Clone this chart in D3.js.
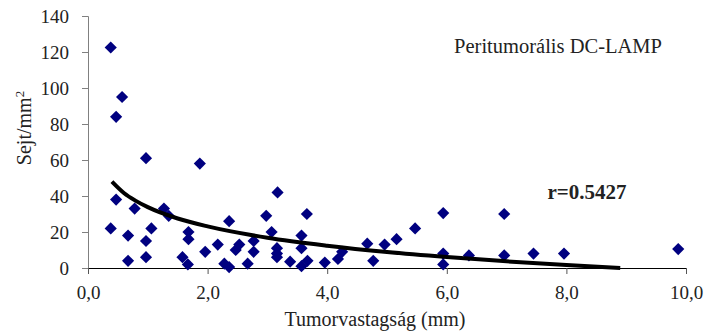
<!DOCTYPE html>
<html>
<head>
<meta charset="utf-8">
<script src="https://cdn.jsdelivr.net/npm/d3@7"></script>
<style>
  body { margin: 0; background: #fff; }
  text { font-family: "Liberation Serif", "Times New Roman", serif; fill: #222; }
</style>
</head>
<body>
<div id="chart"></div>
<script>
// tumour thickness (mm) and cell density (cells/mm2)
const thickness = [0.38, 0.57, 0.47, 0.97, 1.87, 0.47, 0.78, 1.27, 1.35, 0.38,
  0.67, 1.06, 0.97, 1.68, 1.68, 1.96, 0.67, 0.97, 1.58, 1.67,
  3.17, 3.66, 2.36, 2.98, 3.07, 3.57, 2.17, 2.53, 2.47, 2.77,
  2.77, 3.16, 3.16, 3.16, 3.57, 3.38, 3.57, 3.67, 2.28, 2.36,
  2.67, 3.96, 5.94, 5.47, 5.16, 4.96, 4.67, 4.77, 4.25, 4.18,
  5.94, 5.94, 6.96, 6.37, 6.96, 7.45, 7.96, 9.87];
const cells = [122.5, 95, 84, 61, 58, 38, 33, 33, 29, 22,
  18, 22, 15, 20, 16, 9, 4, 6, 6, 2,
  42, 30, 26, 29, 20, 18, 13, 13, 10, 15,
  9, 11, 8, 6, 11, 3.5, 1, 4, 2.4, 0.5,
  2.4, 3, 30.5, 22, 16, 13, 13.5, 4, 9, 5,
  8, 2, 30, 7, 7, 8, 8, 10.5];

// trend line as drawn in the picture
const trendX = [0.4, 0.6, 0.8, 1.0, 1.5, 2.0, 3.0, 4.0, 5.0, 6.0, 7.0, 8.0, 8.9];
const trendY = [48, 41.7, 37.3, 33.8, 27.5, 23.1, 16.8, 12.4, 8.9, 6.1, 3.7, 1.6, 0];

const xTicks = [0, 2, 4, 6, 8, 10];
const xTickLabels = ["0,0", "2,0", "4,0", "6,0", "8,0", "10,0"];
const yTicks = [0, 20, 40, 60, 80, 100, 120, 140];

const data = thickness.map((t, i) => ({ x: t, y: cells[i] }));
const trend = trendX.map((t, i) => ({ x: t, y: trendY[i] }));

const W = 709, H = 333;
const margin = { top: 16, right: 23, bottom: 65, left: 88 };
const width = W - margin.left - margin.right;
const height = H - margin.top - margin.bottom;

const svg = d3.select("#chart")
  .append("svg")
  .attr("width", W)
  .attr("height", H)
  .append("g")
  .attr("transform", `translate(${margin.left},${margin.top})`);

const x = d3.scaleLinear().domain([0, 10]).range([0, width]);
const y = d3.scaleLinear().domain([0, 140]).range([height, 0]);

// y axis
const yAxis = svg.append("g")
  .call(d3.axisLeft(y).tickValues(yTicks).tickSize(6).tickPadding(13));
yAxis.select(".domain").attr("stroke", "#808080");
yAxis.selectAll(".tick line").attr("stroke", "#808080");
yAxis.selectAll("text").style("font-size", "19px")
  .style("font-family", "Liberation Serif").attr("fill", "#222");

// x axis
const xAxis = svg.append("g")
  .attr("transform", `translate(0,${height})`)
  .call(d3.axisBottom(x).tickValues(xTicks)
    .tickFormat((d, i) => xTickLabels[i]).tickSize(6).tickPadding(12));
xAxis.select(".domain").attr("stroke", "#000");
xAxis.selectAll(".tick line").attr("stroke", "#555");
xAxis.selectAll("text").style("font-size", "19px")
  .style("font-family", "Liberation Serif").attr("fill", "#222");

// axis titles
svg.append("text")
  .attr("x", x(5) - 12)
  .attr("y", height + 58)
  .attr("text-anchor", "middle")
  .style("font-size", "20px")
  .text("Tumorvastagság (mm)");

const yLab = svg.append("text")
  .attr("transform", `translate(${31 - margin.left},${128 - margin.top}) rotate(-90)`)
  .attr("text-anchor", "middle")
  .style("font-size", "20px");
yLab.append("tspan").text("Sejt/mm");
yLab.append("tspan").attr("dy", "-7").style("font-size", "13px").text("2");

// points
svg.selectAll("path.pt")
  .data(data)
  .enter()
  .append("path")
  .attr("class", "pt")
  .attr("d", d3.symbol(d3.symbolSquare, 74))
  .attr("transform", d => `translate(${x(d.x)},${y(d.y)}) rotate(45)`)
  .attr("fill", "#000080");

// trend line
svg.append("path")
  .datum(trend)
  .attr("d", d3.line().x(d => x(d.x)).y(d => y(d.y)).curve(d3.curveMonotoneX))
  .attr("fill", "none")
  .attr("stroke", "#000")
  .attr("stroke-width", 4);

// annotations
svg.append("text")
  .attr("x", 558 - margin.left)
  .attr("y", 53 - margin.top)
  .attr("text-anchor", "middle")
  .style("font-size", "20.5px")
  .text("Peritumorális DC-LAMP");

svg.append("text")
  .attr("x", 587 - margin.left)
  .attr("y", 199 - margin.top)
  .attr("text-anchor", "middle")
  .style("font-size", "21px")
  .style("font-weight", "bold")
  .text("r=0.5427");
</script>
</body>
</html>
